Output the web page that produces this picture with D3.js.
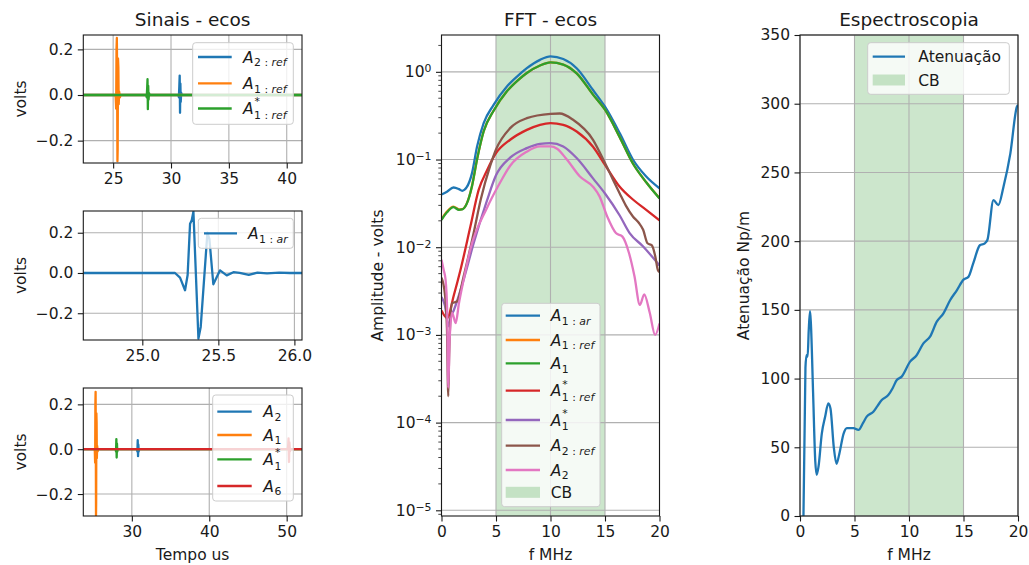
<!DOCTYPE html>
<html><head><meta charset="utf-8">
<script src="https://cdn.jsdelivr.net/npm/d3@7"></script>
<style>body{margin:0;background:#fff} text{font-family:"DejaVu Sans",sans-serif;fill:#1a1a1a}</style>
</head><body><svg id="c" width="1029" height="565"></svg>
<script>
// ---------------- DATA ----------------
// Panel 1 (Sinais - ecos): time (us) / volts
const p1_t_A2ref = [22.42, 30.62, 30.68, 30.72, 30.75, 30.78, 30.81, 30.84, 30.88, 30.94, 41.32];
const p1_v_A2ref = [0, 0, -0.01, 0.04, 0.085, -0.078, 0.05, -0.03, 0.01, 0, 0];
const p1_t_A1ref = [22.42, 25.18, 25.22, 25.26, 25.29, 25.32, 25.34, 25.37, 25.39, 25.42, 25.45, 25.48, 25.52, 25.58, 25.65, 41.32];
const p1_v_A1ref = [0, 0, -0.01, -0.06, 0.2, 0.25, 0.1, -0.29, -0.24, 0.16, 0.12, -0.04, 0.015, -0.01, 0, 0];
const p1_t_A1sref = [22.42, 27.85, 27.9, 27.94, 27.97, 28.0, 28.03, 28.06, 28.1, 28.15, 41.32];
const p1_v_A1sref = [0, 0, -0.01, 0.03, 0.069, -0.062, 0.04, -0.02, 0.008, 0, 0];
// Panel 2 : A1:ar
const p2_t_A1ar = [24.61, 25.215, 25.248, 25.281, 25.298, 25.314, 25.325, 25.336, 25.369, 25.384, 25.428, 25.441, 25.467, 25.511, 25.555, 25.599, 25.64, 25.70, 25.757, 25.82, 25.9, 25.97, 26.05];
const p2_v_A1ar = [0, 0, -0.023, -0.086, -0.01, 0.245, 0.262, 0.305, -0.326, -0.268, 0.2, 0.17, -0.056, 0.013, -0.012, 0.004, 0.0, -0.009, 0.002, -0.002, 0.002, 0, 0];
// Panel 3
const p3_t_A2 = [23.73, 30.65, 30.72, 30.76, 30.8, 30.84, 30.88, 30.95, 51.98];
const p3_v_A2 = [0, 0, -0.01, 0.04, -0.031, 0.02, -0.01, 0, 0];
const p3_t_A1 = [23.73, 25.18, 25.22, 25.26, 25.29, 25.32, 25.34, 25.37, 25.39, 25.42, 25.45, 25.48, 25.52, 25.58, 25.65, 51.98];
const p3_v_A1 = [0, 0, -0.01, -0.06, 0.2, 0.256, 0.1, -0.295, -0.24, 0.16, 0.12, -0.04, 0.015, -0.01, 0, 0];
const p3_t_A1s = [23.73, 27.9, 27.96, 28.0, 28.04, 28.08, 28.12, 28.18, 51.98];
const p3_v_A1s = [0, 0, -0.01, 0.045, -0.037, 0.025, -0.01, 0, 0];
const p3_t_A6 = [23.73, 50.1, 50.18, 50.24, 50.3, 50.36, 50.42, 50.5, 51.98];
const p3_v_A6 = [0, 0, 0.01, 0.048, -0.057, 0.03, -0.01, 0, 0];

// Panel 4 (FFT - ecos): f (MHz) / amplitude (volts)
const f_A1ar = [0, 0.5, 1.1, 1.6, 1.9, 2.3, 2.8, 3.26, 3.87, 4.78, 6.0, 7.0, 7.83, 9.04, 10, 11.17, 12.4, 13.9, 15, 16.35, 17.56, 18.78, 20];
const a_A1ar = [0.040, 0.043, 0.048, 0.046, 0.044, 0.048, 0.07, 0.14, 0.26, 0.42, 0.68, 0.90, 1.10, 1.37, 1.50, 1.40, 1.10, 0.62, 0.40, 0.20, 0.10, 0.064, 0.047];
const f_A1ref = [0, 0.5, 1.1, 1.6, 1.9, 2.3, 2.8, 3.26, 3.87, 4.78, 6.0, 7.0, 7.83, 9.04, 10, 11.17, 12.4, 13.9, 15, 16.35, 17.56, 18.78, 20];
const a_A1ref = [0.0208, 0.0255, 0.029, 0.027, 0.0272, 0.0312, 0.05, 0.10, 0.21, 0.36, 0.60, 0.80, 0.97, 1.18, 1.28, 1.21, 0.96, 0.55, 0.37, 0.18, 0.09, 0.055, 0.0362];
const f_A1 = [0, 0.5, 1.1, 1.6, 1.9, 2.3, 2.8, 3.26, 3.87, 4.78, 6.0, 7.0, 7.83, 9.04, 10, 11.17, 12.4, 13.9, 15, 16.35, 17.56, 18.78, 20];
const a_A1 = [0.0205, 0.025, 0.0286, 0.0267, 0.027, 0.031, 0.05, 0.10, 0.21, 0.36, 0.60, 0.80, 0.97, 1.18, 1.28, 1.21, 0.96, 0.55, 0.37, 0.18, 0.09, 0.055, 0.036];
const f_A1sref = [0, 0.52, 1.12, 1.74, 2.65, 3.41, 4.17, 5, 6.3, 7.83, 9.04, 10, 11.17, 12.4, 13.9, 15, 16.35, 17.56, 18.78, 20];
const a_A1sref = [0.0019, 0.00155, 0.0028, 0.0055, 0.0172, 0.045, 0.075, 0.118, 0.168, 0.218, 0.249, 0.26, 0.249, 0.209, 0.14, 0.087, 0.049, 0.035, 0.0267, 0.0202];
const f_A1s = [0, 0.3, 0.67, 0.85, 1.12, 2.04, 2.95, 4.17, 5, 6.3, 7.83, 9.04, 10, 11.17, 12.4, 13.9, 15, 16.35, 17.26, 18.5, 20];
const a_A1s = [0.0027, 0.0022, 0.00125, 0.0016, 0.0019, 0.0043, 0.0111, 0.034, 0.066, 0.105, 0.135, 0.151, 0.154, 0.141, 0.104, 0.061, 0.041, 0.023, 0.0145, 0.0102, 0.0062];
const f_A2ref = [0, 0.3, 0.5, 0.62, 0.7, 0.97, 1.42, 2.04, 2.95, 3.6, 4.47, 5, 6.3, 7.83, 10, 10.85, 12.07, 13.9, 15, 15.7, 16.35, 16.9, 17.56, 18.1, 18.5, 18.9, 19.3, 19.6, 19.85, 20];
const a_A2ref = [0.0045, 0.003, 0.0012, 0.0002, 0.0006, 0.0023, 0.0024, 0.0047, 0.0145, 0.035, 0.085, 0.13, 0.228, 0.296, 0.332, 0.335, 0.284, 0.168, 0.091, 0.06, 0.041, 0.03, 0.0224, 0.019, 0.0158, 0.0111, 0.0105, 0.008, 0.0055, 0.0052];
const f_A2 = [0, 0.2, 0.37, 0.52, 0.62, 0.75, 0.97, 1.3, 1.6, 2.04, 2.65, 4.17, 5.39, 6.3, 7.83, 9.04, 10, 10.6, 11.5, 12.7, 13.9, 14.5, 15.2, 16, 16.6, 17.2, 17.7, 18.2, 18.6, 19.1, 19.6, 20];
const a_A2 = [0.0072, 0.0055, 0.0043, 0.0019, 0.00025, 0.0009, 0.0018, 0.00136, 0.0023, 0.0043, 0.0095, 0.028, 0.055, 0.085, 0.123, 0.141, 0.141, 0.133, 0.10, 0.064, 0.049, 0.038, 0.0224, 0.0145, 0.0132, 0.0086, 0.0047, 0.0022, 0.0029, 0.0018, 0.001, 0.00135];

// Panel 5 (Espectroscopia): f (MHz) / attenuation (Np/m)
const f_att = [0.3, 0.5, 0.6, 0.7, 0.8, 0.92, 1.0, 1.2, 1.4, 1.53, 1.7, 2.0, 2.3, 2.6, 2.8, 3.1, 3.35, 3.6, 4.0, 4.3, 4.9, 5.36, 5.8, 6.12, 6.73, 7.1, 7.5, 8.1, 8.5, 8.88, 9.33, 10.1, 10.7, 11.32, 11.93, 12.55, 13.16, 13.77, 14.4, 15, 15.45, 15.9, 16.5, 16.95, 17.2, 17.75, 18.2, 18.67, 19.3, 19.9, 20];
const v_att = [-10, 108, 117, 116, 135, 149, 140, 90, 40, 30, 36, 60, 72, 82, 78, 50, 38, 45, 60, 64, 64, 62.6, 68, 72.3, 75.9, 80, 84.4, 88, 93, 99, 101.4, 112.3, 117, 125.6, 130.5, 141.4, 147.5, 157, 164.4, 172, 174, 184, 197, 198.4, 201, 229.9, 226.3, 239.6, 263.9, 297.8, 299];

// Tick values
const p1_xticks = [25, 30, 35, 40];
const p2_xticks = [25.0, 25.5, 26.0];
const p3_xticks = [30, 40, 50];
const sig_yticks = [-0.2, 0.0, 0.2];
const fft_xticks = [0, 5, 10, 15, 20];
const fft_yticks = [1e-5, 1e-4, 1e-3, 1e-2, 1e-1, 1];
const att_yticks = [0, 50, 100, 150, 200, 250, 300, 350];
const cbBand = [5, 15];

// ---------------- DRAWING ----------------
const svg = d3.select('#c');
svg.append('rect').attr('width', 1029).attr('height', 565).attr('fill', '#fff');
const FS = 15.5, TFS = 18.5;
const C = {blue:'#1f77b4', orange:'#ff7f0e', green:'#2ca02c', red:'#d62728', purple:'#9467bd', brown:'#8c564b', pink:'#e377c2'};
const defs = svg.append('defs');
let clipN = 0;
const minus = s => s.replace('-', '\u2212');

function panel(o) {
  const g = svg.append('g');
  const x = d3.scaleLinear().domain(o.xd).range([o.x0, o.x1]);
  const y = (o.log ? d3.scaleLog() : d3.scaleLinear()).domain(o.yd).range([o.y1, o.y0]);
  const id = 'clip' + (clipN++);
  defs.append('clipPath').attr('id', id).append('rect')
    .attr('x', o.x0).attr('y', o.y0).attr('width', o.x1 - o.x0).attr('height', o.y1 - o.y0);
  const bg = g.append('g').attr('clip-path', `url(#${id})`);
  if (o.span) bg.append('rect').attr('x', x(o.span[0])).attr('y', o.y0)
    .attr('width', x(o.span[1]) - x(o.span[0])).attr('height', o.y1 - o.y0)
    .attr('fill', '#008000').attr('fill-opacity', 0.2);
  const grid = g.append('g').attr('stroke', '#b0b0b0').attr('stroke-width', 1.1);
  o.xt.forEach(v => grid.append('line').attr('x1', x(v)).attr('x2', x(v)).attr('y1', o.y0).attr('y2', o.y1));
  o.yt.forEach(v => grid.append('line').attr('y1', y(v)).attr('y2', y(v)).attr('x1', o.x0).attr('x2', o.x1));
  const lines = g.append('g').attr('clip-path', `url(#${id})`);
  const frame = g.append('g');
  const ax = frame.append('g').attr('transform', `translate(0,${o.y1})`)
    .call(d3.axisBottom(x).tickValues(o.xt).tickFormat(o.xf).tickSize(5.5).tickPadding(4.5));
  const ay = frame.append('g').attr('transform', `translate(${o.x0},0)`)
    .call(d3.axisLeft(y).tickValues(o.yt).tickFormat(o.log ? () => '' : o.yf).tickSize(5.5).tickPadding(4.5));
  [ax, ay].forEach(a => {
    a.select('.domain').remove();
    a.attr('font-family', 'DejaVu Sans').attr('font-size', FS);
    a.selectAll('line').attr('stroke', '#1a1a1a').attr('stroke-width', 1.1);
    a.selectAll('text').attr('fill', '#1a1a1a');
  });
  if (o.log) {
    ay.selectAll('.tick text').each(function(d) {
      const t = d3.select(this);
      const e = Math.round(Math.log10(d));
      t.text('10');
      t.append('tspan').attr('dy', '-0.45em').attr('font-size', FS * 0.7).text(minus(String(e)));
    });
    const mt = frame.append('g').attr('stroke', '#1a1a1a').attr('stroke-width', 0.8);
    for (let d = -6; d <= 1; d++) for (let k = 2; k <= 9; k++) {
      const v = k * Math.pow(10, d);
      if (v > o.yd[0] && v < o.yd[1]) mt.append('line').attr('x1', o.x0 - 3.2).attr('x2', o.x0).attr('y1', y(v)).attr('y2', y(v));
    }
  }
  frame.append('rect').attr('x', o.x0).attr('y', o.y0).attr('width', o.x1 - o.x0).attr('height', o.y1 - o.y0)
    .attr('fill', 'none').attr('stroke', '#1a1a1a').attr('stroke-width', 1.1);
  if (o.title) frame.append('text').attr('x', (o.x0 + o.x1) / 2).attr('y', o.y0 - 9).attr('text-anchor', 'middle').attr('font-size', TFS).text(o.title);
  if (o.xlabel) frame.append('text').attr('x', (o.x0 + o.x1) / 2).attr('y', o.y1 + 44).attr('text-anchor', 'middle').attr('font-size', FS).text(o.xlabel);
  if (o.ylabel) frame.append('text').attr('transform', `translate(${o.ylx},${(o.y0 + o.y1) / 2}) rotate(-90)`).attr('text-anchor', 'middle').attr('font-size', FS).text(o.ylabel);
  const leg = g.append('g');
  return {x, y, lines, leg};
}

function drawLine(p, xs, ys, color, curve) {
  const pts = xs.map((v, i) => [v, ys[i]]);
  p.lines.append('path').datum(pts)
    .attr('d', d3.line().x(d => p.x(d[0])).y(d => p.y(d[1])).curve(curve || d3.curveLinear))
    .attr('fill', 'none').attr('stroke', color).attr('stroke-width', 2.3).attr('stroke-linejoin', 'round');
}

// math label in ONE text element: italic base, optional superscript and subscript stacked
function mathLabel(g, x, yc, lab) {
  const base = yc + 0.36 * FS;
  const t = g.append('text').attr('x', x).attr('y', base).attr('font-size', FS);
  if (lab.plain) { t.text(lab.plain); return; }
  const a = t.append('tspan').attr('font-style', 'italic').text(lab.base);
  const w = a.node().getComputedTextLength();
  const sfs = FS * 0.7;
  let dyAcc = 0;
  if (lab.sup) {
    t.append('tspan').attr('x', x + w + 1).attr('dy', -0.56 * FS).attr('font-size', sfs).text(lab.sup);
    dyAcc = -0.56 * FS;
  }
  if (lab.sub) {
    let first = true;
    const subDy = lab.sup ? 0.3 * FS : 0.25 * FS;
    lab.sub.forEach(([s, it]) => {
      const ts = t.append('tspan').attr('font-size', sfs).attr('font-style', it ? 'italic' : 'normal').text(s);
      if (first) { ts.attr('x', x + w + 0.5).attr('dy', subDy - dyAcc); first = false; }
    });
  }
}

function legend(p, box, items) {
  const g = p.leg;
  g.append('rect').attr('x', box.x0).attr('y', box.y0).attr('width', box.x1 - box.x0).attr('height', box.y1 - box.y0)
    .attr('rx', 3).attr('fill', '#fff').attr('fill-opacity', 0.8).attr('stroke', '#cccccc').attr('stroke-width', 1);
  items.forEach(it => {
    if (it.patch) g.append('rect').attr('x', box.hx0).attr('y', it.y - 5.5).attr('width', box.hx1 - box.hx0).attr('height', 11)
      .attr('fill', '#008000').attr('fill-opacity', 0.2);
    else g.append('line').attr('x1', box.hx0).attr('x2', box.hx1).attr('y1', it.y).attr('y2', it.y)
      .attr('stroke', it.color).attr('stroke-width', 2.3);
    mathLabel(g, box.tx, it.y, it.label);
  });
}

const N = '\u00a0:\u00a0';
const L = {
  A2ref: {base: 'A', sub: [['2', 0], [N, 0], ['ref', 1]]},
  A1ref: {base: 'A', sub: [['1', 0], [N, 0], ['ref', 1]]},
  A1sref: {base: 'A', sub: [['1', 0], [N, 0], ['ref', 1]], sup: '*'},
  A1ar: {base: 'A', sub: [['1', 0], [N, 0], ['ar', 1]]},
  A1: {base: 'A', sub: [['1', 0]]},
  A1s: {base: 'A', sub: [['1', 0]], sup: '*'},
  A2: {base: 'A', sub: [['2', 0]]},
  A6: {base: 'A', sub: [['6', 0]]},
};
const f1 = d => minus(d3.format('.1f')(d));

// Panel 1
const P1 = panel({x0: 83.3, x1: 302, y0: 35, y1: 163, xd: [22.42, 41.32], yd: [-0.298, 0.263],
  xt: p1_xticks, yt: sig_yticks, xf: d3.format('d'), yf: f1, title: 'Sinais - ecos', ylabel: 'volts', ylx: 26});
drawLine(P1, p1_t_A2ref, p1_v_A2ref, C.blue);
drawLine(P1, p1_t_A1ref, p1_v_A1ref, C.orange);
drawLine(P1, p1_t_A1sref, p1_v_A1sref, C.green);
legend(P1, {x0: 192.7, x1: 293.3, y0: 42.7, y1: 124.3, hx0: 198, hx1: 231.7, tx: 243},
  [{y: 57, color: C.blue, label: L.A2ref}, {y: 83.3, color: C.orange, label: L.A1ref}, {y: 108.5, color: C.green, label: L.A1sref}]);

// Panel 2
const P2 = panel({x0: 83.3, x1: 302, y0: 211, y1: 340, xd: [24.612, 26.05], yd: [-0.333, 0.308],
  xt: p2_xticks, yt: sig_yticks, xf: d3.format('.1f'), yf: f1, ylabel: 'volts', ylx: 26});
drawLine(P2, p2_t_A1ar, p2_v_A1ar, C.blue);
legend(P2, {x0: 198.3, x1: 293.3, y0: 218.3, y1: 248.3, hx0: 204, hx1: 237, tx: 248},
  [{y: 233.3, color: C.blue, label: L.A1ar}]);

// Panel 3
const P3 = panel({x0: 83.3, x1: 302, y0: 388, y1: 516, xd: [23.73, 51.98], yd: [-0.298, 0.273],
  xt: p3_xticks, yt: sig_yticks, xf: d3.format('d'), yf: f1, xlabel: 'Tempo us', ylabel: 'volts', ylx: 26});
drawLine(P3, p3_t_A2, p3_v_A2, C.blue);
drawLine(P3, p3_t_A1, p3_v_A1, C.orange);
drawLine(P3, p3_t_A1s, p3_v_A1s, C.green);
drawLine(P3, p3_t_A6, p3_v_A6, C.red);
legend(P3, {x0: 212.7, x1: 293.3, y0: 395, y1: 501, hx0: 217.3, hx1: 251.7, tx: 263.3},
  [{y: 411.7, color: C.blue, label: L.A2}, {y: 435, color: C.orange, label: L.A1},
   {y: 459.3, color: C.green, label: L.A1s}, {y: 486, color: C.red, label: L.A6}]);

// Panel 4
const P4 = panel({x0: 441.5, x1: 659.5, y0: 35, y1: 516, xd: [0, 20], yd: [Math.pow(10, -5.065), Math.pow(10, 0.42)], log: true,
  xt: fft_xticks, yt: fft_yticks, xf: d3.format('d'), span: cbBand, title: 'FFT - ecos', xlabel: 'f MHz', ylabel: 'Amplitude - volts', ylx: 383});
const mc = d3.curveMonotoneX;
drawLine(P4, f_A1ar, a_A1ar, C.blue, mc);
drawLine(P4, f_A1ref, a_A1ref, C.orange, mc);
drawLine(P4, f_A1, a_A1, C.green, mc);
drawLine(P4, f_A1sref, a_A1sref, C.red, mc);
drawLine(P4, f_A1s, a_A1s, C.purple, mc);
drawLine(P4, f_A2ref, a_A2ref, C.brown, mc);
drawLine(P4, f_A2, a_A2, C.pink, mc);
legend(P4, {x0: 501.7, x1: 600, y0: 303.3, y1: 506.7, hx0: 505.7, hx1: 540, tx: 550.7},
  [{y: 315.7, color: C.blue, label: L.A1ar}, {y: 340, color: C.orange, label: L.A1ref},
   {y: 363.3, color: C.green, label: L.A1}, {y: 390.7, color: C.red, label: L.A1sref},
   {y: 420, color: C.purple, label: L.A1s}, {y: 445.7, color: C.brown, label: L.A2ref},
   {y: 470, color: C.pink, label: L.A2}, {y: 492.3, patch: true, label: {plain: 'CB'}}]);

// Panel 5
const P5 = panel({x0: 800, x1: 1018, y0: 35, y1: 516, xd: [0, 20], yd: [0, 350],
  xt: fft_xticks, yt: att_yticks, xf: d3.format('d'), yf: d3.format('d'), span: cbBand,
  title: 'Espectroscopia', xlabel: 'f MHz', ylabel: 'Atenuação Np/m', ylx: 749});
drawLine(P5, f_att, v_att, C.blue, d3.curveMonotoneX);
legend(P5, {x0: 867.7, x1: 1009.3, y0: 42.7, y1: 94.3, hx0: 872.7, hx1: 905, tx: 918.3},
  [{y: 56.7, color: C.blue, label: {plain: 'Atenuação'}}, {y: 80, patch: true, label: {plain: 'CB'}}]);
</script></body></html>
